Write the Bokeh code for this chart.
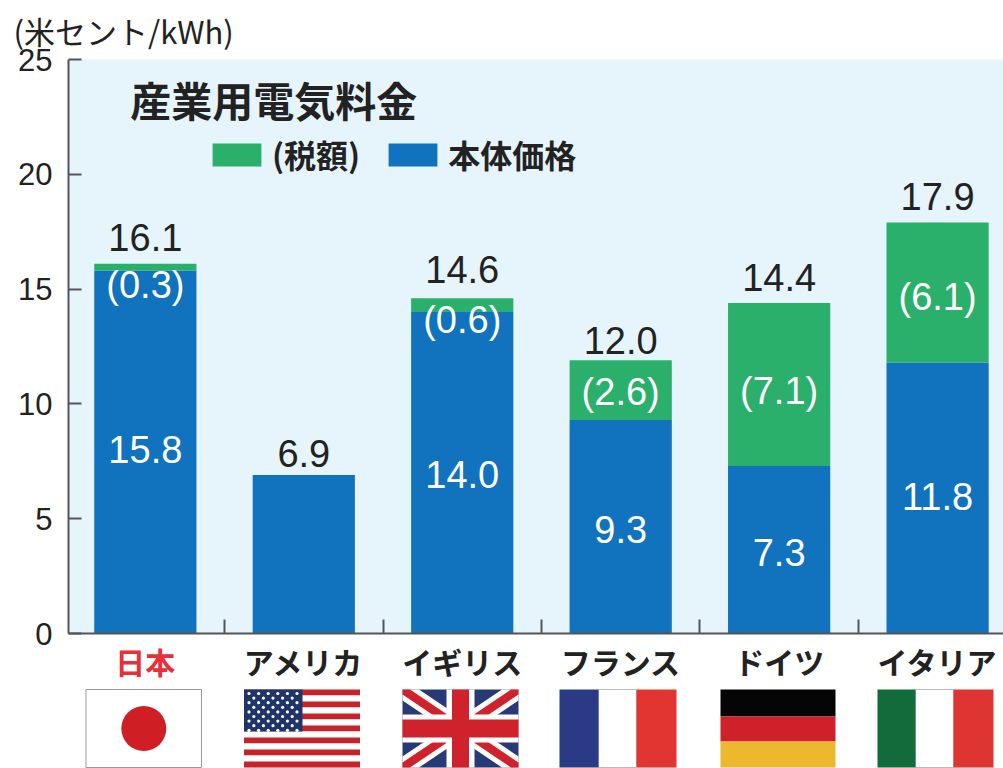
from bokeh.plotting import figure
from bokeh.layouts import column
from bokeh.models import Range1d, Legend, LegendItem, FixedTicker, Title
from bokeh.core.properties import value
from bokeh.embed import file_html
from bokeh.resources import INLINE

categories = ["日本", "アメリカ", "イギリス", "フランス", "ドイツ", "イタリア"]
base_price = [15.8, 6.9, 14.0, 9.3, 7.3, 11.8]
tax = [0.3, 0.0, 0.6, 2.6, 7.1, 6.1]
totals = [16.1, 6.9, 14.6, 12.0, 14.4, 17.9]
y_ticks = [0, 5, 10, 15, 20, 25]

BLUE, GREEN, BG, INK = "#1172BE", "#2BB06B", "#E6F4FC", "#222222"
JP = "Noto Sans CJK JP"
LAT = "Liberation Sans"
xs = list(range(len(categories)))
x_range = Range1d(-0.485, 5.416)
x_breaks = [i + 0.5 for i in xs[:-1]]

p = figure(width=1003, height=655, x_range=x_range, y_range=Range1d(0, 25),
           output_backend="svg", toolbar_location=None, min_border_left=68,
           min_border_right=0, min_border_top=59, min_border_bottom=22,
           outline_line_color=None, background_fill_color=BG)
p.title = Title(text="(米セント/kWh)", align="left", offset=-55, standoff=12,
                vertical_align="middle",
                text_font=JP, text_font_size="31px", text_font_style="normal",
                text_color=INK)
p.grid.visible = False
p.yaxis.ticker = FixedTicker(ticks=y_ticks)
p.yaxis.major_tick_in = 13
p.yaxis.major_tick_out = 0
p.yaxis.minor_tick_line_color = None
p.yaxis.axis_line_color = "#555555"
p.yaxis.axis_line_width = 2
p.yaxis.major_tick_line_color = "#555555"
p.yaxis.major_tick_line_width = 2
p.yaxis.major_label_text_font = LAT
p.yaxis.major_label_text_font_size = "31px"
p.yaxis.major_label_text_color = INK
p.yaxis.major_label_standoff = 16

p.xaxis.ticker = FixedTicker(ticks=x_breaks)
p.xaxis.major_label_overrides = {t: "" for t in x_breaks}
p.xaxis.major_tick_in = 14
p.xaxis.major_tick_out = 0
p.xaxis.minor_tick_line_color = None
p.xaxis.major_tick_line_color = "#555555"
p.xaxis.major_tick_line_width = 2
p.xaxis.axis_line_color = "#555555"
p.xaxis.axis_line_width = 2
p.xaxis.major_label_standoff = 0

blue = p.vbar(x=xs, bottom=0, top=base_price, width=0.645, fill_color=BLUE, line_color=None)
green = p.vbar(x=xs, bottom=base_price, top=[b + t for b, t in zip(base_price, tax)],
               width=0.645, fill_color=GREEN, line_color=None)

legend = Legend(items=[LegendItem(label="(税額)", renderers=[green]),
                       LegendItem(label="本体価格", renderers=[blue])],
                orientation="horizontal", location=(138, 456), padding=0, margin=0,
                spacing=22, label_standoff=5, glyph_width=61, glyph_height=29,
                background_fill_alpha=0, border_line_color=None,
                label_text_font=JP, label_text_font_size="32px",
                label_text_font_style="bold", label_text_color=INK)
p.add_layout(legend, "center")

# value labels
p.text(x=xs, y=totals, text=[f"{v:.1f}" for v in totals], text_font=value(LAT),
       text_font_size="38px", text_color=INK, text_align="center",
       text_baseline="middle", y_offset=[-26, -22, -29, -17, -25, -26])
base_xs = [i for i in xs if tax[i] > 0]
p.text(x=base_xs, y=[base_price[i] / 2 for i in base_xs],
       text=[f"{base_price[i]:.1f}" for i in base_xs],
       text_font=value(LAT), text_font_size="38px", text_color="white",
       text_align="center", text_baseline="middle", y_offset=[-3, 2, 3, 3, -2])
tax_xs = [i for i in xs if tax[i] > 0]
p.text(x=tax_xs,
       y=[base_price[i] + tax[i] / 2 if tax[i] >= 1 else base_price[i] - 0.75 for i in tax_xs],
       text=[f"({tax[i]:.1f})" for i in tax_xs], text_font=value(LAT),
       text_font_size="38px", text_color="white", text_align="center",
       text_baseline="middle", y_offset=[-3, -9, 2, 7, 4])

p.text(x=[-0.095], y=[23.26], text=["産業用電気料金"], text_font=value(JP),
       text_font_size="41px", text_font_style="bold", text_color=INK,
       text_align="left", text_baseline="middle")

# lower strip: category names and flags, y in page pixels; it overlaps the
# empty foot of the chart so that neither figure cuts a text
f = figure(width=1003, height=128, x_range=x_range, y_range=Range1d(768, 640),
           output_backend="svg", toolbar_location=None, min_border_left=68,
           min_border_right=0, min_border_top=0, min_border_bottom=0,
           outline_line_color=None, background_fill_alpha=0, border_fill_alpha=0,
           margin=(-15, 0, 0, 0))
f.grid.visible = False
f.axis.visible = False

def X(px):
    return -0.485 + (px - 68) * (5.416 + 0.485) / 935

def box(x0, x1, y0, y1, color, line=None):
    f.quad(left=X(x0), right=X(x1), top=y0, bottom=y1, fill_color=color, line_color=line)

f.text(x=xs, y=[660] * len(xs), text=categories, text_font=value(JP), text_font_size="30px",
       text_font_style="bold", text_color=["#E8303A"] + [INK] * (len(xs) - 1),
       text_align="center", text_baseline="middle")

T, B = 689, 767

# Japan
box(85.5, 201, T, B, "white", "#999999")
f.scatter(x=[X(143.3)], y=[728], size=45, fill_color="#CF1F25", line_color=None)

# USA
ux0, ux1 = 243.5, 359.5
sh = (B - T) / 13
for k in range(13):
    box(ux0, ux1, T + k * sh, T + (k + 1) * sh, "#C8232A" if k % 2 == 0 else "white")
box(ux0, 302, T, T + 7 * sh, "#1F3468")
sx, sy = [], []
for r in range(9):
    n = 6 if r % 2 == 0 else 5
    for c in range(n):
        sx.append(X(ux0 + 5 + c * 9.6 + (0 if r % 2 == 0 else 4.8)))
        sy.append(T + 4 + r * 4.6)
f.scatter(x=sx, y=sy, size=3.2, fill_color="white", line_color=None)

# UK
a0, a1 = 402, 518
box(a0, a1, T, B, "#273A75")
def diag(t, color):
    tx = t * 1.5
    f.patch(x=[X(v) for v in (a0, a0 + tx, a1, a1, a1 - tx, a0)],
            y=[T, T, B - t, B, B, T + t], fill_color=color, line_color=None)
    f.patch(x=[X(v) for v in (a1, a1 - tx, a0, a0, a0 + tx, a1)],
            y=[T, T, B - t, B, B, T + t], fill_color=color, line_color=None)
diag(11, "white")
diag(5, "#D0222C")
mx, my = (a0 + a1) / 2, (T + B) / 2
box(mx - 14, mx + 14, T, B, "white")
box(a0, a1, my - 14, my + 14, "white")
box(mx - 8.5, mx + 8.5, T, B, "#D0222C")
box(a0, a1, my - 9, my + 9, "#D0222C")

# France
box(598, 636, T, B, "white", "#BBBBBB")
box(559, 598, T, B, "#2B3A85")
box(636, 676, T, B, "#E23430")

# Germany
box(720, 835, T, 716, "#050505")
box(720, 835, 716, 741, "#D0202A")
box(720, 835, 741, B, "#EBB82E")

# Italy
box(915, 953, T, B, "white", "#BBBBBB")
box(877, 915, T, B, "#116B3A")
box(953, 993, T, B, "#DE3533")

layout = column(p, f, spacing=0)
open("out.html", "w").write(file_html(layout, INLINE))
